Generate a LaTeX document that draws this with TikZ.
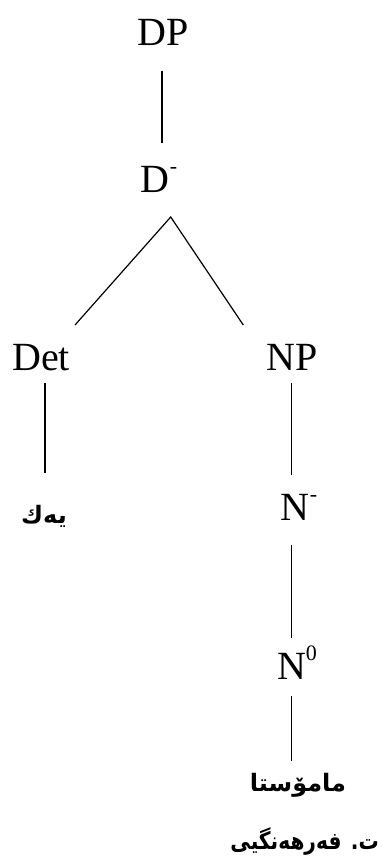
\documentclass[tikz,border=0pt]{standalone}
\usepackage{fontspec}
\setmainfont{Liberation Serif}
\newfontfamily\kurdfont[Script=Arabic]{DejaVu Sans}
\TeXXeTstate=1
\newcommand\supr[1]{\raisebox{19pt}{\fontsize{22}{22}\selectfont #1}}
\begin{document}
\begin{tikzpicture}[x=1pt,y=-1pt,
  lbl/.style={font=\fontsize{40}{40}\selectfont, inner sep=0pt, anchor=base},
  kurd/.style={font=\kurdfont\bfseries\fontsize{24}{24}\selectfont, inner sep=0pt},
  edge/.style={line width=1.2pt}]
\useasboundingbox (0,0) rectangle (382,863);
\fill[white] (0,0) rectangle (382,863);
\node[lbl] (DP) at (163,45) {DP};
\node[lbl] (Dbar) at (159,192) {D\supr{-}};
\node[lbl] (Det) at (41,370.7) {Det};
\node[lbl] (NP) at (292.5,370.7) {NP};
\node[lbl] (Nbar) at (299,520) {N\supr{-}};
\node[lbl] (N0) at (297,679) {N\supr{0}};
\node[kurd] (yek) at (44,516) {\beginR یەك\endR};
\node[kurd] (mamosta) at (298,785) {\beginR مامۆستا\endR};
\node[kurd, anchor=east] (caption) at (379,842) {\scalebox{0.84}[1]{\beginR ت. فەرهەنگیی\endR}};
\draw[edge] ([xshift=-1pt,yshift=-26pt]DP.base) -- ([xshift=3pt,yshift=49pt]Dbar.base);
\draw[edge] ([xshift=34pt,yshift=45.7pt]Det.base) -- ([xshift=11.7pt,yshift=-25pt]Dbar.base) -- ([xshift=-49.2pt,yshift=45.7pt]NP.base);
\draw[edge] ([xshift=4pt,yshift=-12.3pt]Det.base) -- ([xshift=1pt,yshift=43pt]yek.center);
\draw[edge] ([xshift=-0.8pt,yshift=-12.3pt]NP.base) -- ([xshift=-7.3pt,yshift=45pt]Nbar.base);
\draw[edge] ([xshift=-7.3pt,yshift=-25pt]Nbar.base) -- ([xshift=-5.3pt,yshift=41pt]N0.base);
\draw[edge] ([xshift=-5.3pt,yshift=-17pt]N0.base) -- ([xshift=-6.3pt,yshift=24pt]mamosta.center);
\end{tikzpicture}
\end{document}
